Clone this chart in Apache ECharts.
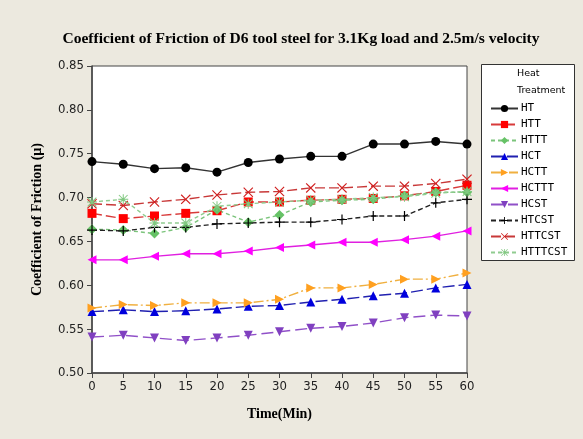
<!DOCTYPE html>
<html><head><meta charset="utf-8">
<script src="https://cdn.jsdelivr.net/npm/echarts@6/dist/echarts.min.js"></script>
<style>html,body{margin:0;padding:0;background:#ECE9DF;}#c{width:583px;height:439px;}</style>
</head><body><div id="c"></div>
<script>
const times = [0,5,10,15,20,25,30,35,40,45,50,55,60];
const yTicks = [0.50,0.55,0.60,0.65,0.70,0.75,0.80,0.85];
const HT      = [0.741,0.738,0.733,0.734,0.729,0.740,0.744,0.747,0.747,0.761,0.761,0.764,0.761];
const HTT     = [0.682,0.676,0.679,0.682,0.685,0.695,0.695,0.697,0.698,0.699,0.702,0.707,0.714];
const HTTT    = [0.664,0.663,0.659,0.666,0.686,0.672,0.680,0.695,0.697,0.698,0.702,0.706,0.706];
const HCT     = [0.570,0.572,0.570,0.571,0.573,0.576,0.577,0.581,0.584,0.588,0.591,0.597,0.601];
const HCTT    = [0.574,0.578,0.577,0.580,0.580,0.580,0.584,0.597,0.597,0.601,0.607,0.607,0.614];
const HCTTT   = [0.629,0.629,0.633,0.636,0.636,0.639,0.643,0.646,0.649,0.649,0.652,0.656,0.662];
const HCST    = [0.541,0.543,0.540,0.537,0.540,0.543,0.547,0.551,0.553,0.557,0.563,0.566,0.565];
const HTCST   = [0.663,0.662,0.666,0.666,0.670,0.671,0.672,0.672,0.675,0.679,0.679,0.694,0.698];
const HTTCST  = [0.693,0.691,0.695,0.698,0.703,0.706,0.707,0.711,0.711,0.713,0.713,0.716,0.721];
const HTTTCST = [0.695,0.698,0.671,0.671,0.690,0.693,0.695,0.697,0.698,0.700,0.701,0.705,0.707];

const seriesDefs = [
  {name:'HT', data:HT, color:'#000000', line:'#333333', type:'solid', symbol:'circle', size:9},
  {name:'HTT', data:HTT, color:'#FF0000', line:'#D83A3A', type:[10,4], symbol:'rect', size:9},
  {name:'HTTT', data:HTTT, color:'#66C266', line:'#7BC47B', type:[4,3], symbol:'diamond', size:10},
  {name:'HCT', data:HCT, color:'#0000DD', line:'#2020B0', type:[12,4], symbol:'triangle', size:9},
  {name:'HCTT', data:HCTT, color:'#FFA020', line:'#F0B040', type:[10,3,2,3], symbol:'path://M0,0 L10,5 L0,10 Z', size:9},
  {name:'HCTTT', data:HCTTT, color:'#FF00FF', line:'#E020E0', type:'solid', symbol:'path://M10,0 L0,5 L10,10 Z', size:9},
  {name:'HCST', data:HCST, color:'#8040C0', line:'#9050C8', type:[12,5], symbol:'path://M0,0 L10,0 L5,10 Z', size:9},
  {name:'HTCST', data:HTCST, color:'#000000', line:'#222222', type:[5,3], symbol:'path://M4.4,0 H5.6 V4.4 H10 V5.6 H5.6 V10 H4.4 V5.6 H0 V4.4 H4.4 Z', size:10},
  {name:'HTTCST', data:HTTCST, color:'#D02020', line:'#C83838', type:[10,4], symbol:'path://M0.8,0 L5,4.2 L9.2,0 L10,0.8 L5.8,5 L10,9.2 L9.2,10 L5,5.8 L0.8,10 L0,9.2 L4.2,5 L0,0.8 Z', size:10},
  {name:'HTTTCST', data:HTTTCST, color:'#80C880', line:'#90CC90', type:[4,3], symbol:'path://M4.5,0 H5.5 V4.5 H10 V5.5 H5.5 V10 H4.5 V5.5 H0 V4.5 H4.5 Z M1,0.3 L5,4.3 L9,0.3 L9.7,1 L5.7,5 L9.7,9 L9,9.7 L5,5.7 L1,9.7 L0.3,9 L4.3,5 L0.3,1 Z', size:10}
];

const chart = echarts.init(document.getElementById('c'), null, {renderer:'canvas'});
const axisFont = '"Liberation Sans Narrow","DejaVu Sans Condensed",sans-serif';
const option = {
  backgroundColor:'#ECE9DF',
  animation:false,
  title:{text:'Coefficient of Friction of D6 tool steel for 3.1Kg load and 2.5m/s velocity',
    left:296, top:26, textAlign:'center',
    textStyle:{fontFamily:'"Liberation Serif",serif', fontWeight:'bold', fontSize:15.5, color:'#000'}},
  grid:{left:92, top:66, width:375, height:307, show:true, backgroundColor:'#FFFFFF', borderColor:'#444', borderWidth:1},
  xAxis:{type:'value', min:0, max:60, interval:5,
    name:'Time(Min)', nameLocation:'middle', nameGap:34,
    nameTextStyle:{fontFamily:'"Liberation Serif",serif', fontWeight:'bold', fontSize:14, color:'#000'},
    axisLine:{lineStyle:{color:'#444', width:1.5}}, axisTick:{length:5, lineStyle:{color:'#444'}},
    axisLabel:{fontFamily:axisFont, fontSize:13, color:'#222', margin:7},
    splitLine:{show:false}},
  yAxis:{type:'value', min:yTicks[0], max:yTicks[yTicks.length-1], interval:0.05,
    name:'Coefficient of Friction (µ)', nameLocation:'middle', nameGap:48, nameRotate:90,
    nameTextStyle:{fontFamily:'"Liberation Serif",serif', fontWeight:'bold', fontSize:14, color:'#000'},
    axisLine:{lineStyle:{color:'#444', width:1.5}}, axisTick:{length:5, lineStyle:{color:'#444'}},
    axisLabel:{fontFamily:axisFont, fontSize:13, color:'#222', margin:8, formatter:v=>v.toFixed(2)},
    splitLine:{show:false}},
  legend:{orient:'vertical', left:485, top:98, itemWidth:27, itemHeight:9, itemGap:5,
    data:seriesDefs.map(s=>s.name),
    textStyle:{fontFamily:'"DejaVu Sans Mono",monospace', fontSize:11, color:'#000', padding:[0,0,0,-2]}},
  graphic:[
    {type:'rect', left:481, top:64, shape:{width:93, height:196}, style:{fill:'#FFFFFF', stroke:'#333', lineWidth:1}, z:-1},
    {type:'text', left:517, top:69, style:{text:'Heat', font:'9.5px "DejaVu Sans",sans-serif', fill:'#000'}},
    {type:'text', left:517, top:86, style:{text:'Treatment', font:'9.5px "DejaVu Sans",sans-serif', fill:'#000'}}
  ],
  series:seriesDefs.map(s=>({
    name:s.name, type:'line', data:times.map((t,i)=>[t,s.data[i]]),
    symbol:s.symbol, symbolSize:s.size, showAllSymbol:true,
    itemStyle:{color:s.color},
    lineStyle:{color:s.line, type:s.type, width:1.4}
  }))
};
chart.setOption(option);
</script>
</body></html>
